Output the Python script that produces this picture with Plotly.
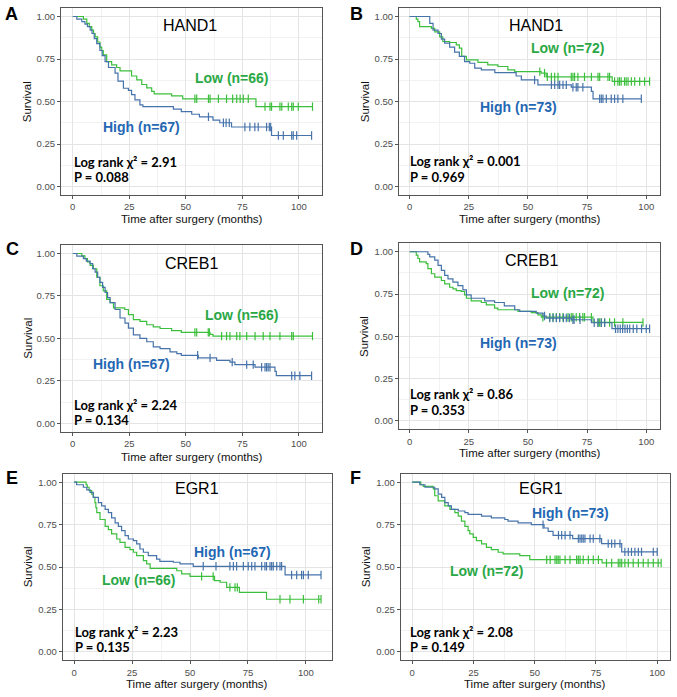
import plotly.graph_objects as go

W, H = 677, 697

# ---------------- data ----------------
panel_letters = ["A", "B", "C", "D", "E", "F"]
genes = ["HAND1", "HAND1", "CREB1", "CREB1", "EGR1", "EGR1"]
n_low = [66, 72, 66, 72, 66, 72]
n_high = [67, 73, 67, 73, 67, 73]
chi2 = ["2.91", "0.001", "2.24", "0.86", "2.23", "2.08"]
pvals = ["0.088", "0.969", "0.134", "0.353", "0.135", "0.149"]
x_ticks = [0, 25, 50, 75, 100]
y_ticks = [0.0, 0.25, 0.5, 0.75, 1.0]
y_tick_labels = ["0.00", "0.25", "0.50", "0.75", "1.00"]
x_title = "Time after surgery (months)"
y_title = "Survival"

# Panel A (HAND1, cohort 1)
A_low_t = [4.7, 6.2, 7.3, 8.4, 9.2, 9.9, 11, 12, 12.8, 13.5, 15, 17.2, 19.4, 20.9, 26, 28.3, 30.5, 32.7, 34.9, 36, 43.7, 48.6, 81]
A_low_s = [0.985, 0.96, 0.94, 0.92, 0.90, 0.88, 0.85, 0.82, 0.80, 0.775, 0.735, 0.716, 0.70, 0.68, 0.65, 0.627, 0.60, 0.58, 0.56, 0.545, 0.533, 0.516, 0.47]
A_low_c = [54, 54.8, 60, 60.7, 64.4, 68, 70.7, 72.5, 74, 75.4, 77.6, 85, 87.2, 87.9, 91.6, 92.4, 95.3, 96.8, 97.5, 99.7, 106]
A_high_t = [1.8, 4, 5.4, 6.5, 7.7, 8.5, 9.5, 10.6, 12, 13, 14.3, 15.8, 18.7, 20, 22.4, 24.6, 26, 27.5, 29.7, 31, 44.5, 48, 52.6, 56, 62, 65, 70.2, 87.9]
A_high_s = [0.985, 0.97, 0.955, 0.94, 0.92, 0.90, 0.87, 0.84, 0.80, 0.77, 0.735, 0.70, 0.667, 0.62, 0.578, 0.565, 0.54, 0.51, 0.48, 0.47, 0.455, 0.44, 0.425, 0.41, 0.39, 0.375, 0.35, 0.30]
A_high_c = [60, 66.6, 67.8, 69.2, 76.1, 78.3, 80.5, 82, 85.7, 86.9, 87.5, 90.9, 93.1, 96.8, 97.5, 99, 105.6]

# Panel B (HAND1, cohort 2)
B_low_t = [2.8, 3.5, 4.2, 9.2, 10.6, 12.7, 14, 16.9, 19.7, 21, 22, 24, 28.9, 33, 37.3, 41.5, 44.4, 55.6, 57.7, 85.6]
B_low_s = [0.985, 0.97, 0.94, 0.93, 0.91, 0.88, 0.853, 0.847, 0.833, 0.814, 0.765, 0.745, 0.73, 0.716, 0.706, 0.686, 0.676, 0.667, 0.645, 0.618]
B_low_c = [55, 57, 58.2, 59.9, 61.3, 62.7, 68.3, 69, 69.7, 71.1, 73.9, 76.8, 79.6, 80.3, 83.8, 84.5, 86.6, 88, 88.7, 89.4, 90.8, 91.5, 92.3, 93.7, 95.1, 97.2, 99.3, 101.4]
B_high_t = [8.5, 9.9, 12, 13.4, 14.8, 16.9, 19, 21, 23.2, 25.4, 27.5, 30.3, 36, 45, 47.2, 54.2, 68.3, 76.8, 77.5]
B_high_s = [0.96, 0.92, 0.90, 0.867, 0.843, 0.82, 0.79, 0.765, 0.735, 0.725, 0.696, 0.686, 0.67, 0.65, 0.627, 0.598, 0.584, 0.559, 0.516]
B_high_c = [52.8, 59.9, 61.3, 62.7, 63.4, 64.8, 66.2, 69, 70.4, 71.1, 73.2, 80.3, 81, 81.7, 83.1, 85.2, 86.6, 88, 90.1, 97.9]

# Panel C (CREB1, cohort 1)
C_low_t = [4, 5.4, 6.5, 7.7, 9.1, 10.6, 12, 13.5, 15, 16.5, 18, 23, 24.6, 26.8, 29.7, 32.7, 35.6, 38.6, 43.7, 48, 60.7, 62]
C_low_s = [0.986, 0.97, 0.95, 0.93, 0.91, 0.86, 0.81, 0.78, 0.73, 0.71, 0.68, 0.67, 0.64, 0.61, 0.60, 0.58, 0.568, 0.558, 0.546, 0.535, 0.523, 0.513]
C_low_c = [54, 54.8, 59.9, 60.4, 65.8, 68, 69.5, 72.5, 73.9, 76.9, 80.6, 84.2, 87.2, 91.6, 96.8, 97.5, 106]
C_high_t = [1.8, 4.7, 6, 7.6, 8.8, 9.9, 11, 12, 13.2, 14.3, 15.4, 16.5, 18.7, 20.9, 23.1, 24.6, 26.8, 29.7, 32.7, 35.6, 38.6, 43, 46, 48, 55.5, 63.6, 69.5, 71.7, 80.6, 89.4, 90]
C_high_s = [0.985, 0.97, 0.955, 0.94, 0.91, 0.89, 0.86, 0.83, 0.80, 0.77, 0.74, 0.71, 0.67, 0.62, 0.59, 0.56, 0.52, 0.50, 0.48, 0.45, 0.44, 0.42, 0.41, 0.40, 0.385, 0.37, 0.36, 0.345, 0.33, 0.305, 0.28]
C_high_c = [55.2, 60.7, 70.5, 76.9, 79.8, 83.5, 85, 85.7, 86.4, 87.2, 96.8, 98.2, 100.4, 105.6]

# Panel D (CREB1, cohort 2)
D_low_t = [2.8, 3.5, 4.2, 7, 7.7, 9.2, 10.6, 13.4, 14.8, 16.9, 18.3, 19.7, 21.8, 23.2, 24, 26, 30.3, 32.4, 35.9, 37.3, 45.8, 51.4, 54.2, 55.6, 77.5]
D_low_s = [0.98, 0.96, 0.94, 0.93, 0.90, 0.87, 0.85, 0.83, 0.81, 0.79, 0.78, 0.77, 0.765, 0.745, 0.725, 0.71, 0.70, 0.686, 0.667, 0.657, 0.647, 0.64, 0.627, 0.613, 0.582]
D_low_c = [56.3, 59.2, 60.6, 62, 63.4, 64.8, 66.9, 68.3, 69, 70.4, 71.8, 73.2, 73.9, 76.8, 79.6, 80.3, 81, 82.4, 84.5, 86.6, 90.1, 98.6]
D_high_t = [7.7, 8.5, 10.6, 12, 13.4, 14.8, 16.2, 18.3, 20.4, 22.5, 24, 26, 31.7, 35.9, 40, 44.4, 46.5, 53.5, 56.3, 57.7, 68.3, 76.8, 85.5]
D_high_s = [0.985, 0.97, 0.95, 0.92, 0.89, 0.86, 0.84, 0.82, 0.80, 0.775, 0.745, 0.725, 0.71, 0.70, 0.68, 0.657, 0.647, 0.637, 0.62, 0.608, 0.598, 0.58, 0.545]
D_high_c = [57, 59.2, 60.6, 62, 63.4, 65, 66.2, 67.5, 69, 69.5, 72, 78, 79.6, 81, 82.4, 87, 88, 89, 90, 91, 92, 93, 94.5, 96, 98, 100, 101.4]

# Panel E (EGR1, cohort 1)
E_low_t = [5.2, 5.7, 6.5, 7.6, 8.3, 9, 9.4, 9.8, 11.2, 13.4, 14.8, 16.2, 18.4, 19.8, 22, 24.1, 25.6, 27, 29.9, 31.3, 32.8, 44.3, 46.4, 50, 60.6, 63, 65.8, 71.3, 83]
E_low_s = [0.985, 0.97, 0.95, 0.93, 0.91, 0.88, 0.85, 0.82, 0.78, 0.74, 0.72, 0.695, 0.665, 0.645, 0.616, 0.602, 0.587, 0.567, 0.537, 0.518, 0.492, 0.478, 0.459, 0.445, 0.42, 0.41, 0.38, 0.35, 0.31]
E_low_c = [55, 60, 67.2, 69.4, 70.4, 88.8, 93.1, 98.9, 105.5, 106.5]
E_high_t = [1.1, 4, 5.5, 6.9, 8.3, 10.5, 11.9, 13.4, 14.8, 16.2, 17.7, 19.1, 20.5, 22, 23.4, 25.6, 27, 28.4, 29.9, 32, 35.6, 37, 42.8, 45.7, 51.4, 91]
E_high_s = [0.985, 0.97, 0.955, 0.94, 0.91, 0.88, 0.86, 0.84, 0.82, 0.79, 0.76, 0.74, 0.715, 0.685, 0.665, 0.655, 0.636, 0.606, 0.587, 0.567, 0.547, 0.533, 0.528, 0.518, 0.504, 0.453]
E_high_c = [55.7, 61.2, 67.2, 68.7, 70.1, 73, 75.1, 76.6, 78, 80.9, 82.3, 83, 84.5, 85.2, 85.9, 87.4, 88.8, 89.5, 93.8, 96, 98.1, 98.9, 101, 106.5]

# Panel F (EGR1, cohort 2)
F_low_t = [3.5, 4.5, 8.6, 9.2, 10.6, 13.3, 15.4, 17.4, 18.8, 20.1, 21.5, 22.8, 23.5, 24.9, 26.2, 28.3, 30.3, 32.3, 35.1, 37.1, 43.9, 48, 77.5]
F_low_s = [0.985, 0.975, 0.96, 0.92, 0.89, 0.86, 0.84, 0.82, 0.80, 0.77, 0.74, 0.715, 0.695, 0.675, 0.655, 0.636, 0.616, 0.602, 0.587, 0.577, 0.567, 0.543, 0.524]
F_low_c = [54.9, 56.3, 58.3, 59, 59.6, 60.3, 62.4, 64.4, 67.1, 67.8, 68.5, 69.8, 71.9, 73.9, 76, 79.3, 81.4, 84.1, 84.8, 85.5, 86.8, 88.2, 90.2, 92.3, 94.3, 96.3, 98.4, 100.4, 101.6]
F_high_t = [3.1, 5.2, 9.2, 10.6, 12, 13.3, 14.7, 16, 18.8, 21.5, 22.8, 28.3, 32.3, 37.8, 39.1, 43.2, 48.6, 53.8, 55.5, 57.5, 65.5, 77.3, 85.5]
F_high_s = [0.985, 0.97, 0.96, 0.93, 0.91, 0.88, 0.86, 0.84, 0.83, 0.82, 0.81, 0.80, 0.79, 0.78, 0.77, 0.76, 0.75, 0.73, 0.71, 0.687, 0.667, 0.638, 0.589]
F_high_c = [53.4, 59.7, 61, 62.4, 64.4, 67.8, 68.5, 69.2, 69.8, 70.5, 72.6, 73.9, 76.6, 80, 81.4, 82.7, 84.8, 86.8, 88.2, 89.5, 90.9, 92.3, 93.6, 98.4, 100]

low_series = [(A_low_t, A_low_s, A_low_c), (B_low_t, B_low_s, B_low_c), (C_low_t, C_low_s, C_low_c),
              (D_low_t, D_low_s, D_low_c), (E_low_t, E_low_s, E_low_c), (F_low_t, F_low_s, F_low_c)]
high_series = [(A_high_t, A_high_s, A_high_c), (B_high_t, B_high_s, B_high_c), (C_high_t, C_high_s, C_high_c),
               (D_high_t, D_high_s, D_high_c), (E_high_t, E_high_s, E_high_c), (F_high_t, F_high_s, F_high_c)]

# ---------------- layout geometry (pixels) ----------------
geom = [
    dict(box=(61, 322, 8, 195), xr=(-5.2, 110.2), letter=(11.5, 14), title=(190, 25),
         low=(231.8, 78.3), high=(141.8, 127.3), stats=(71.7, 161.7, 176.7), xt=219, yt=26.7),
    dict(box=(399, 660, 8, 195), xr=(-4.5, 105.8), letter=(356.5, 14), title=(535.5, 25),
         low=(568, 47.7), high=(518.8, 107.3), stats=(408, 161, 176.7), xt=219, yt=364.7),
    dict(box=(61, 322, 245, 431.7), xr=(-5.2, 110.2), letter=(12.5, 249), title=(191.7, 263.3),
         low=(241.8, 315), high=(131, 364.3), stats=(71.7, 405, 420), xt=457, yt=28.3),
    dict(box=(399, 660, 243.3, 429.3), xr=(-4.5, 105.8), letter=(356.5, 249), title=(531.7, 260),
         low=(568.2, 292.7), high=(518.8, 342.7), stats=(408, 394.3, 410), xt=453.3, yt=364.7),
    dict(box=(62.7, 331.7, 473.7, 660.3), xr=(-4.9, 111.1), letter=(12, 478), title=(197.5, 488.7),
         low=(139.2, 580.3), high=(232.8, 552), stats=(72.7, 632, 647), xt=683.7, yt=28.3),
    dict(box=(400.7, 669.7, 473.7, 660.3), xr=(-4.7, 105.1), letter=(355.5, 478), title=(541.3, 488.7),
         low=(486.5, 571.3), high=(570.8, 512.7), stats=(408, 632, 647), xt=683.7, yt=366.3),
]

GREEN_LINE = "#3cbf3c"
BLUE_LINE = "#4673aa"
GREEN_TXT = "#2aa845"
BLUE_TXT = "#2467b3"
GRID_MAJ = "#e4e4e4"
GRID_MIN = "#f2f2f2"
AXIS_COL = "#555555"


def px(x):
    return x / W


def py(y):
    return 1 - y / H


def km_path(t, s, end):
    return [0] + list(t) + [end], [1.0] + list(s) + [s[-1]]


def surv_at(t, s, x):
    v = 1.0
    for ti, si in zip(t, s):
        if ti <= x:
            v = si
    return v


fig = go.Figure()
annotations = []
layout_axes = {}


def ann(text, x, y, size, color="#000000", family="Liberation Sans, Arial", xanchor="center",
        angle=0, weight="normal"):
    annotations.append(dict(text=text, x=px(x), y=py(y), xref="paper", yref="paper",
                            showarrow=False, xanchor=xanchor, yanchor="middle", textangle=angle,
                            font=dict(family=family, size=size, color=color, weight=weight)))


for i in range(6):
    g = geom[i]
    k = "" if i == 0 else str(i + 1)
    xa, ya = "x" + k, "y" + k
    for (t, s, c), col in ((low_series[i], GREEN_LINE), (high_series[i], BLUE_LINE)):
        end = max(c) if c else t[-1]
        xs, ys = km_path(t, s, end)
        fig.add_trace(go.Scatter(x=xs, y=ys, mode="lines", line=dict(color=col, width=1.2, shape="hv"),
                                 xaxis=xa, yaxis=ya, hoverinfo="skip"))
        fig.add_trace(go.Scatter(x=c, y=[surv_at(t, s, v) for v in c], mode="markers",
                                 marker=dict(symbol="line-ns", size=6, line=dict(color=col, width=1.2)),
                                 xaxis=xa, yaxis=ya, hoverinfo="skip"))

    x0, x1, y0, y1 = g["box"]
    common = dict(showline=True, mirror=True, linecolor=AXIS_COL, linewidth=1, zeroline=False,
                  ticks="outside", ticklen=3, tickcolor=AXIS_COL, tickwidth=1,
                  showgrid=True, gridcolor=GRID_MAJ, gridwidth=1,
                  tickfont=dict(family="Liberation Sans, Arial", size=9.5, color="#4d4d4d"))
    layout_axes["xaxis" + k] = dict(common, domain=[px(x0), px(x1)], range=list(g["xr"]), anchor=ya,
                                    tickmode="array", tickvals=x_ticks,
                                    minor=dict(dtick=12.5, tick0=0, showgrid=True, gridcolor=GRID_MIN, ticks=""))
    layout_axes["yaxis" + k] = dict(common, domain=[py(y1), py(y0)], range=[-0.05, 1.05], anchor=xa,
                                    tickmode="array", tickvals=y_ticks, ticktext=y_tick_labels,
                                    minor=dict(dtick=0.125, tick0=0, showgrid=True, gridcolor=GRID_MIN, ticks=""))

    ann(panel_letters[i], g["letter"][0], g["letter"][1], 18, weight="bold")
    ann(genes[i], g["title"][0], g["title"][1], 16)
    ann("Low (n=%d)" % n_low[i], g["low"][0], g["low"][1], 14, GREEN_TXT, weight="bold")
    ann("High (n=%d)" % n_high[i], g["high"][0], g["high"][1], 14, BLUE_TXT, weight="bold")
    ann("Log rank χ² = %s" % chi2[i], g["stats"][0], g["stats"][1], 13,
        family="Lato, Open Sans", xanchor="left", weight="bold")
    ann("P = %s" % pvals[i], g["stats"][0], g["stats"][2], 13, family="Lato, Open Sans",
        xanchor="left", weight="bold")
    ann(x_title, (x0 + x1) / 2, g["xt"], 11.5, color="#111111")
    ann(y_title, g["yt"], (y0 + y1) / 2, 11.5, color="#111111", angle=-90)

fig.update_layout(width=W, height=H, margin=dict(l=0, r=0, t=0, b=0), showlegend=False,
                  plot_bgcolor="white", paper_bgcolor="white", annotations=annotations, **layout_axes)

fig.write_html("out.html", post_script="document.body.style.margin='0px';",
               config={"displayModeBar": False})
